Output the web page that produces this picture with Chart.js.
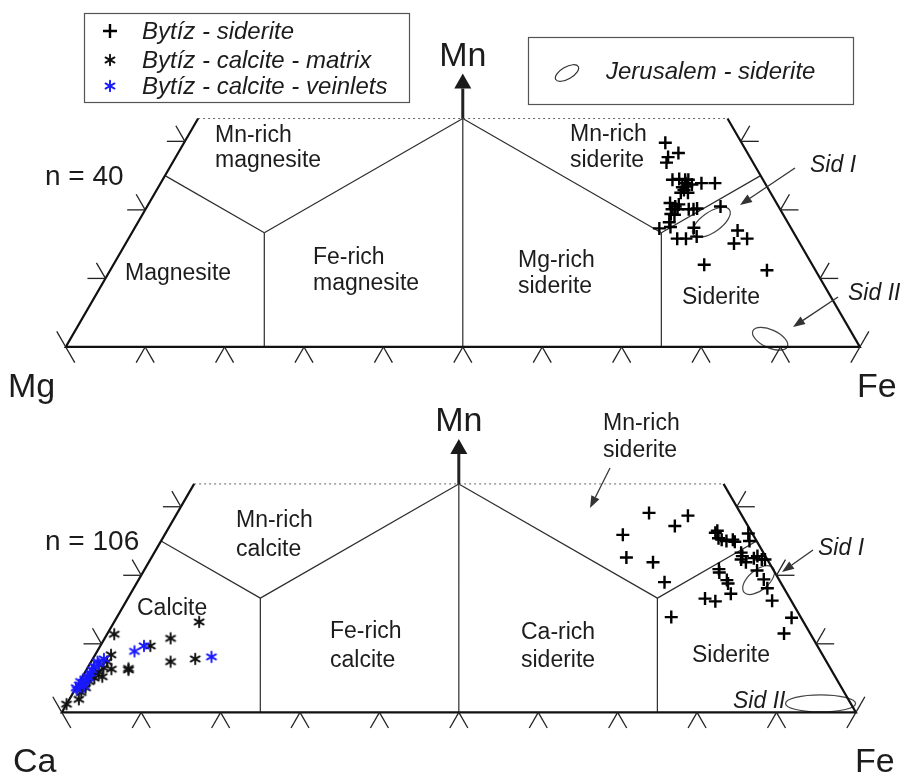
<!DOCTYPE html>
<html>
<head>
<meta charset="utf-8">
<script src="https://cdn.jsdelivr.net/npm/chart.js@4.4.1/dist/chart.umd.min.js"></script>
<style>
  html, body { margin: 0; padding: 0; background: #fff; }
  #wrap { width: 907px; height: 776px; position: relative; }
</style>
</head>
<body>
<div id="wrap"><canvas id="ternary"></canvas></div>
<script>
// Compositions as [Mn, Fe] in %, the third end-member (Mg or Ca) is the rest.
// Upper diagram: Mg - Fe - Mn, lower diagram: Ca - Fe - Mn (truncated at Mn = 33.3 %)

const bytizSideriteUpper = [
    [29.8, 60.6], [28.3, 63.0], [27.7, 62.0], [26.9, 62.2], [24.5, 65.0], [24.4, 64.2],
    [23.9, 66.1], [24.4, 66.2], [23.4, 66.5], [23.3, 66.0], [23.7, 67.0], [23.9, 68.1],
    [23.9, 69.8], [22.5, 67.1], [22.9, 66.4], [21.0, 65.6], [20.8, 66.8], [20.1, 67.0],
    [20.1, 66.3], [20.1, 68.4], [20.2, 69.4], [19.4, 66.5], [19.3, 67.0], [20.5, 72.2],
    [18.2, 66.9], [17.5, 67.4], [17.3, 66.1], [15.8, 69.1], [15.8, 70.2], [17.4, 70.4],
    [16.1, 71.4], [17.0, 76.1], [15.1, 76.6], [15.8, 77.9], [12.0, 74.4], [11.2, 82.7],
    [24.4, 65.8], [22.5, 66.2], [20.5, 66.5], [20.1, 69.0]
];

const bytizSideriteLower = [
    [29.1, 59.4], [28.7, 64.5], [27.2, 63.6], [25.9, 57.7], [22.6, 59.8], [21.9, 63.5],
    [19.0, 66.4], [13.9, 69.8], [26.5, 69.3], [25.4, 70.0], [25.2, 70.5], [25.0, 71.2],
    [24.9, 72.3], [26.1, 73.4], [25.0, 74.1], [23.3, 73.9], [22.3, 74.4], [21.9, 75.2],
    [22.8, 76.2], [22.3, 77.0], [22.3, 77.4], [20.7, 77.2], [20.9, 72.3], [20.4, 72.6],
    [19.3, 74.1], [18.8, 74.5], [17.3, 75.6], [16.6, 72.7], [16.2, 74.2], [19.4, 78.7],
    [18.1, 79.8], [16.3, 81.3], [13.8, 85.0], [11.5, 85.2], [25.2, 71.9], [22.8, 74.3],
    [26.2, 69.2], [22.5, 75.9]
];

const calciteMatrix = [
    [13.2, 10.7], [11.4, 0.9], [10.8, 8.3], [9.7, 6.3], [8.4, 2.0], [7.4, 10.0],
    [7.8, 12.9], [6.2, 5.3], [6.4, 5.2], [7.4, 2.0], [6.5, 2.0], [6.3, 3.1],
    [5.9, 1.7], [5.2, 2.5], [5.0, 1.6], [5.7, 1.4], [2.9, 1.0], [1.9, 1.2],
    [1.2, 0.0], [4.5, 1.2], [3.6, 1.2]
];

const calciteVeinlets = [
    [8.9, 4.7], [9.7, 5.5], [8.1, 14.8], [7.4, 0.8], [7.8, 1.4], [6.7, 0.7],
    [5.7, 0.8], [5.2, 0.6], [4.8, 0.6], [4.3, 0.5], [4.0, 0.2], [3.6, 0.0],
    [5.0, 0.9], [3.8, 0.9], [6.2, 0.7], [7.1, 1.1], [3.3, 0.3], [4.5, 0.1]
];

// Jerusalem siderite fields (ellipse centres)
const jerusalemUpper = [[18.2, 72.2], [1.2, 88.1]];
const jerusalemLower = [[19.3, 78.1], [1.3, 94.9]];

// diagram frame and field boundaries
const MN_MAX = 33.33;
const frameOutline = [[MN_MAX, 0], [0, 0], [0, 100], [MN_MAX, 100 - MN_MAX]];
const frameTop = [[MN_MAX, 0], [MN_MAX, 100 - MN_MAX]];
const fieldBoundaries = [
    [[25, 0], [16.67, 16.67]],
    [[16.67, 16.67], [33.33, 33.33]],
    [[16.67, 16.67], [0, 25]],
    [[33.33, 33.33], [0, 50]],
    [[33.33, 33.33], [16.67, 66.67]],
    [[16.67, 66.67], [0, 75]],
    [[16.67, 66.67], [25, 75]]
];
const baseTicks = [0, 10, 20, 30, 40, 50, 60, 70, 80, 90, 100];
const sideTicks = [10, 20, 30];

// placement of the two diagrams in the shared x/y space
const SQ = Math.sqrt(3) / 2;
const panels = {
    upper: { dx: 0, dy: 0 },
    lower: { dx: -0.5, dy: -46.17 }
};
function tern(mn, fe, p) {
    return { x: fe + mn / 2 + p.dx, y: mn * SQ + p.dy };
}

const FONT = "'Liberation Sans', Arial, sans-serif";
const INK = '#1c1c1c';
const BLUE = '#1a1aff';

function makeAsterisk(color) {
    const c = document.createElement('canvas');
    c.width = 14; c.height = 14;
    const g = c.getContext('2d');
    g.strokeStyle = color;
    g.lineWidth = 1.9;
    g.lineCap = 'round';
    const r = 5.2;
    for (const deg of [90, 30, 150]) {
        const a = deg * Math.PI / 180;
        g.beginPath();
        g.moveTo(7 - r * Math.cos(a), 7 - r * Math.sin(a));
        g.lineTo(7 + r * Math.cos(a), 7 + r * Math.sin(a));
        g.stroke();
    }
    return c;
}
const starBlack = makeAsterisk('#111');
const starBlue = makeAsterisk(BLUE);

const datasets = [];
function addLine(pts, p, color, width, dash) {
    datasets.push({
        data: pts.map(([mn, fe]) => tern(mn, fe, p)),
        showLine: true,
        pointRadius: 0,
        borderColor: color,
        borderWidth: width,
        borderDash: dash || [],
        fill: false,
        order: 5
    });
}
for (const p of [panels.upper, panels.lower]) {
    addLine(frameOutline, p, '#111', 2.2);
    addLine(frameTop, p, '#666', 1, [2, 3]);
    fieldBoundaries.forEach(b => addLine(b, p, '#2e2e2e', 1.2));
}
datasets.push({
    label: 'Bytíz - siderite',
    data: bytizSideriteUpper.map(([mn, fe]) => tern(mn, fe, panels.upper)),
    pointStyle: 'cross', pointRadius: 6.5, borderWidth: 2.4, borderColor: '#000', order: 2
});
datasets.push({
    label: 'Bytíz - siderite',
    data: bytizSideriteLower.map(([mn, fe]) => tern(mn, fe, panels.lower)),
    pointStyle: 'cross', pointRadius: 6.5, borderWidth: 2.4, borderColor: '#000', order: 2
});
datasets.push({
    label: 'Bytíz - calcite - matrix',
    data: calciteMatrix.map(([mn, fe]) => tern(mn, fe, panels.lower)),
    pointStyle: starBlack, order: 1
});
datasets.push({
    label: 'Bytíz - calcite - veinlets',
    data: calciteVeinlets.map(([mn, fe]) => tern(mn, fe, panels.lower)),
    pointStyle: starBlue, order: 0
});

// ellipse shapes for the Jerusalem fields: [half-axis a, half-axis b, rotation deg]
const ellipseShapes = {
    upper: [[22, 10, -35], [19, 9, 25]],
    lower: [[19, 10, -40], [35, 8.5, 0]]
};

function txt(ctx, s, x, y, size, opt = {}) {
    ctx.save();
    ctx.font = (opt.italic ? 'italic ' : '') + size + 'px ' + FONT;
    ctx.fillStyle = opt.color || INK;
    ctx.textAlign = opt.align || 'left';
    ctx.textBaseline = 'alphabetic';
    ctx.fillText(s, x, y);
    ctx.restore();
}

function arrow(ctx, x1, y1, x2, y2, head, half, lw) {
    const a = Math.atan2(y2 - y1, x2 - x1);
    const bx = x2 - head * Math.cos(a), by = y2 - head * Math.sin(a);
    ctx.save();
    ctx.lineWidth = lw;
    ctx.beginPath(); ctx.moveTo(x1, y1); ctx.lineTo(bx, by); ctx.stroke();
    ctx.beginPath();
    ctx.moveTo(x2, y2);
    ctx.lineTo(bx + half * Math.sin(a), by - half * Math.cos(a));
    ctx.lineTo(bx - half * Math.sin(a), by + half * Math.cos(a));
    ctx.closePath(); ctx.fill();
    ctx.restore();
}

const decor = {
    id: 'decor',
    beforeDatasetsDraw(chart) {
        const ctx = chart.ctx;
        const xs = chart.scales.x, ys = chart.scales.y;
        ctx.save();
        ctx.strokeStyle = '#444';
        ctx.lineWidth = 1.2;
        const sets = [[jerusalemUpper, panels.upper, ellipseShapes.upper], [jerusalemLower, panels.lower, ellipseShapes.lower]];
        for (const [centres, p, shapes] of sets) {
            centres.forEach(([mn, fe], i) => {
                const t = tern(mn, fe, p);
                const [a, b, rot] = shapes[i];
                ctx.beginPath();
                ctx.ellipse(xs.getPixelForValue(t.x), ys.getPixelForValue(t.y), a, b, rot * Math.PI / 180, 0, 2 * Math.PI);
                ctx.stroke();
            });
        }
        ctx.restore();
    },
    afterDraw(chart) {
        const ctx = chart.ctx;
        const xs = chart.scales.x, ys = chart.scales.y;
        const px = (mn, fe, p) => {
            const t = tern(mn, fe, p);
            return { x: xs.getPixelForValue(t.x), y: ys.getPixelForValue(t.y) };
        };
        const L = 18;
        const seg = (P, dx, dy) => {
            ctx.lineWidth = 1.3;
            ctx.beginPath(); ctx.moveTo(P.x, P.y); ctx.lineTo(P.x + L * dx, P.y + L * dy); ctx.stroke();
        };
        ctx.save();
        ctx.strokeStyle = '#222';
        ctx.fillStyle = '#1a1a1a';

        for (const p of [panels.upper, panels.lower]) {
            // base ticks
            baseTicks.forEach(fe => {
                const P = px(0, fe, p);
                if (fe === 0) { seg(P, -0.5, -SQ); seg(P, 0.5, SQ); }
                else if (fe === 100) { seg(P, 0.5, -SQ); seg(P, -0.5, SQ); }
                else { seg(P, -0.5, SQ); seg(P, 0.5, SQ); }
            });
            // side ticks
            sideTicks.forEach(mn => {
                const Pl = px(mn, 0, p);
                seg(Pl, -1, 0); seg(Pl, -0.5, -SQ);
                const Pr = px(mn, 100 - mn, p);
                seg(Pr, 1, 0); seg(Pr, 0.5, -SQ);
            });
            // Mn arrow above the apex
            const A = px(MN_MAX, MN_MAX, p);
            arrow(ctx, A.x, A.y, A.x, A.y - 45, 15, 8.5, 3);
            txt(ctx, 'Mn', A.x, A.y - 53, 34, { align: 'center' });
        }

        // corner labels
        txt(ctx, 'Mg', 8, 397, 34);
        txt(ctx, 'Fe', 857, 397, 34);
        txt(ctx, 'Ca', 13, 772, 34);
        txt(ctx, 'Fe', 855, 772, 34);
        txt(ctx, 'n = 40', 45, 185, 28);
        txt(ctx, 'n = 106', 45, 550, 28);

        // field names, upper diagram
        const F = 23;
        txt(ctx, 'Mn-rich', 215, 142, F); txt(ctx, 'magnesite', 215, 167, F);
        txt(ctx, 'Magnesite', 125, 280, F);
        txt(ctx, 'Fe-rich', 313, 264, F); txt(ctx, 'magnesite', 313, 290, F);
        txt(ctx, 'Mg-rich', 518, 267, F); txt(ctx, 'siderite', 518, 293, F);
        txt(ctx, 'Mn-rich', 570, 141, F); txt(ctx, 'siderite', 570, 167, F);
        txt(ctx, 'Siderite', 682, 304, F);
        // field names, lower diagram
        txt(ctx, 'Mn-rich', 236, 527, F); txt(ctx, 'calcite', 236, 556, F);
        txt(ctx, 'Calcite', 137, 615, F);
        txt(ctx, 'Fe-rich', 330, 638, F); txt(ctx, 'calcite', 330, 667, F);
        txt(ctx, 'Ca-rich', 521, 639, F); txt(ctx, 'siderite', 521, 667, F);
        txt(ctx, 'Siderite', 692, 662, F);
        txt(ctx, 'Mn-rich', 603, 430, F); txt(ctx, 'siderite', 603, 457, F);

        // Sid I / Sid II callouts
        txt(ctx, 'Sid I', 810, 172, 23, { italic: true });
        txt(ctx, 'Sid II', 848, 300, 23, { italic: true });
        txt(ctx, 'Sid I', 818, 555, 23, { italic: true });
        txt(ctx, 'Sid II', 733, 708, 23, { italic: true });
        ctx.strokeStyle = '#333'; ctx.fillStyle = '#333';
        arrow(ctx, 795, 168, 740, 205, 12, 4.5, 1.3);
        arrow(ctx, 838, 297, 793, 327, 12, 4.5, 1.3);
        arrow(ctx, 813, 550, 782, 572, 12, 4.5, 1.3);
        arrow(ctx, 610, 468, 590, 508, 12, 4.5, 1.3);

        // legend boxes
        ctx.strokeStyle = '#555'; ctx.lineWidth = 1.2;
        ctx.strokeRect(84.5, 13.5, 325, 89);
        ctx.strokeRect(528.5, 37.5, 325, 67);
        ctx.strokeStyle = '#000'; ctx.lineWidth = 2.4;
        ctx.beginPath();
        ctx.moveTo(103, 31); ctx.lineTo(117, 31);
        ctx.moveTo(110, 24); ctx.lineTo(110, 38);
        ctx.stroke();
        ctx.drawImage(starBlack, 103, 53);
        ctx.drawImage(starBlue, 103, 79);
        txt(ctx, 'Bytíz - siderite', 142, 39, 24, { italic: true });
        txt(ctx, 'Bytíz - calcite - matrix', 142, 68, 24, { italic: true });
        txt(ctx, 'Bytíz - calcite - veinlets', 142, 94, 24, { italic: true });
        ctx.strokeStyle = '#333'; ctx.lineWidth = 1.2;
        ctx.beginPath();
        ctx.ellipse(567, 73, 13, 6, -30 * Math.PI / 180, 0, 2 * Math.PI);
        ctx.stroke();
        txt(ctx, 'Jerusalem - siderite', 606, 79, 24, { italic: true });
        ctx.restore();
    }
};

// 810 px per 100 % along the base, upper diagram's Mg corner at (58, 346)
new Chart(document.getElementById('ternary'), {
    type: 'scatter',
    data: { datasets },
    options: {
        responsive: true,
        maintainAspectRatio: false,
        animation: false,
        events: [],
        layout: { padding: 0 },
        scales: {
            x: { type: 'linear', min: -58 / 8.1, max: (907 - 58) / 8.1, display: false },
            y: { type: 'linear', min: (346 - 776) / 8.1, max: 346 / 8.1, display: false }
        },
        plugins: {
            legend: { display: false },
            tooltip: { enabled: false }
        }
    },
    plugins: [decor]
});
</script>
</body>
</html>
